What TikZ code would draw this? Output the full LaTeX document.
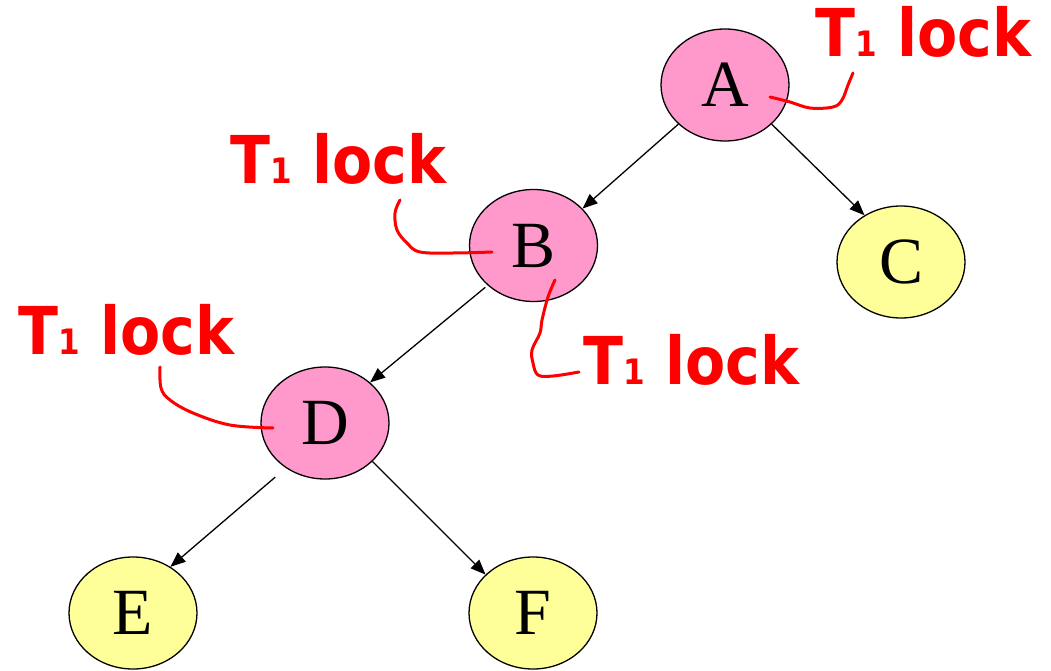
\documentclass[tikz,border=0pt]{standalone}
\usepackage{fontspec}
\setmainfont{Liberation Serif}
\newfontfamily\lockfont{DejaVu Sans}
\usetikzlibrary{shapes.geometric,arrows.meta}
\definecolor{lockpink}{HTML}{FF99CC}
\definecolor{freeyellow}{HTML}{FFFF99}
\newcommand\Tlock{\scalebox{0.887}[1]{T{\fontsize{35}{40}\selectfont 1} lock}}
\tikzset{
  treenode/.style={ellipse, draw=black, line width=1.3pt, minimum width=128pt,
    minimum height=112pt, inner sep=0pt, font=\fontsize{66}{70}\selectfont},
  locked/.style={treenode, fill=lockpink},
  free/.style={treenode, fill=freeyellow},
  edge/.style={line width=1.3pt, -{Triangle[length=15pt,width=12pt]}},
  lockline/.style={draw=red, line width=3pt, line cap=round, line join=round},
  locklabel/.style={text=red, inner sep=0pt, anchor=base west,
    font=\lockfont\bfseries\fontsize{66}{70}\selectfont}
}
\begin{document}
\begin{tikzpicture}[x=1pt,y=-1pt]
\useasboundingbox (0,0) rectangle (1051,671);
\node[locked] (A) at (725,85) {A};
\node[locked] (B) at (533.5,245.5) {B};
\node[free]   (C) at (901,262) {C};
\node[locked] (D) at (325,423) {D};
\node[free]   (E) at (133,613) {E};
\node[free]   (F) at (533,613) {F};

\draw[edge] (A.220) -- (B.37);
\draw[edge] (A.320) -- (C.128);
\draw[edge, shorten <=3pt] (B.221) -- (D.42);
\draw[edge, shorten <=14pt] (D.229) -- (E.51);
\draw[edge] (D.321) -- (F.141);

\node[locklabel] (LA) at (815,57) {\Tlock};
\node[locklabel] (LB) at (230,183) {\Tlock};
\node[locklabel] (LD) at (18,354) {\Tlock};
\node[locklabel] (LB2) at (583,384) {\Tlock};

\draw[lockline] plot[smooth, tension=0.6] coordinates {(770,97) (790,102) (810,108) (833,107) (842,100) (848,85) (853,73)};
\draw[lockline] plot[smooth, tension=0.6] coordinates {(400,200) (395,213) (397,230) (407,243) (420,252) (453,253) (492,252)};
\draw[lockline] plot[smooth, tension=0.6] coordinates {(555,280) (548,297) (542,320) (540,333) (532,350) (533,363) (538,375) (553,376) (579,372)};
\draw[lockline] plot[smooth, tension=0.6] coordinates {(160,367) (161,388) (170,400) (193,413) (230,425) (273,428)};
\end{tikzpicture}
\end{document}
